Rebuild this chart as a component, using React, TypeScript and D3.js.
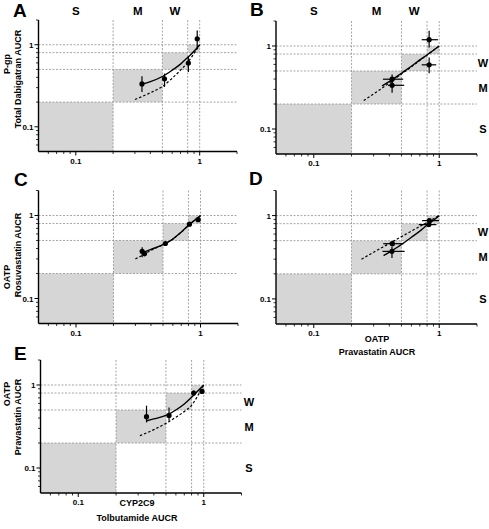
import React from 'react';
import * as d3 from 'd3';

// ---------- shared axis / zone values ----------
const AXIS_DOMAIN: [number, number] = [0.05, 2];
const zoneBoxes: [number, number][] = [[0.05, 0.2], [0.2, 0.5], [0.5, 0.8], [0.8, 1]];
const gridValues = [0.2, 0.5, 0.8, 1];
const majorTicks = [0.1, 1];
const majorTickLabels = ['0.1', '1'];
const minorTicks = [0.06, 0.07, 0.08, 0.09, 0.2, 0.3, 0.4, 0.5, 0.6, 0.7, 0.8, 0.9, 2];
const zoneLabels = ['S', 'M', 'W'];
const zoneCenters = [0.1, 0.316, 0.632];

// ---------- panel A : P-gp, Total Dabigatran AUCR ----------
const aPoints = [
  { x: 0.342, xl: 0.33, xh: 0.355, y: 0.333, yl: 0.266, yh: 0.412 },
  { x: 0.52, xl: 0.505, xh: 0.535, y: 0.385, yl: 0.306, yh: 0.445 },
  { x: 0.81, xl: 0.79, xh: 0.83, y: 0.598, yl: 0.465, yh: 0.707 },
  { x: 0.955, xl: 0.935, xh: 0.975, y: 1.18, yl: 0.89, yh: 1.49 },
];
const aSolid: [number, number][] = [[0.34, 0.33], [0.4, 0.355], [0.5, 0.41], [0.6, 0.49], [0.7, 0.58], [0.8, 0.7], [0.9, 0.83], [1.0, 1.0]];
const aDashed: [number, number][] = [[0.3, 0.215], [0.4, 0.26], [0.5, 0.31], [0.6, 0.39], [0.7, 0.49], [0.8, 0.61], [0.9, 0.78], [1.0, 1.0]];

// ---------- panel B ----------
const bPoints = [
  { x: 0.421, xl: 0.356, xh: 0.516, y: 0.398, yl: 0.345, yh: 0.455 },
  { x: 0.421, xl: 0.39, xh: 0.526, y: 0.336, yl: 0.273, yh: 0.416 },
  { x: 0.831, xl: 0.725, xh: 0.976, y: 1.19, yl: 0.96, yh: 1.53 },
  { x: 0.831, xl: 0.725, xh: 0.946, y: 0.593, yl: 0.47, yh: 0.727 },
];
const bSolid: [number, number][] = [[0.35, 0.33], [0.42, 0.39], [0.5, 0.47], [0.6, 0.57], [0.7, 0.68], [0.8, 0.78], [0.9, 0.89], [1.0, 1.0]];
const bDashed: [number, number][] = [[0.25, 0.22], [0.3, 0.265], [0.35, 0.31], [0.42, 0.38], [0.5, 0.46], [0.6, 0.56], [0.7, 0.67], [0.8, 0.78], [0.9, 0.89], [1.0, 1.0]];

// ---------- panel C : OATP, Rosuvastatin AUCR ----------
const cPoints = [
  { x: 0.34, xl: 0.33, xh: 0.35, y: 0.37, yl: 0.313, yh: 0.414 },
  { x: 0.355, xl: 0.345, xh: 0.365, y: 0.345, yl: 0.33, yh: 0.36 },
  { x: 0.522, xl: 0.51, xh: 0.535, y: 0.46, yl: 0.43, yh: 0.49 },
  { x: 0.815, xl: 0.8, xh: 0.83, y: 0.785, yl: 0.74, yh: 0.83 },
  { x: 0.958, xl: 0.94, xh: 0.975, y: 0.89, yl: 0.84, yh: 0.94 },
];
const cSolid: [number, number][] = [[0.34, 0.355], [0.4, 0.39], [0.5, 0.445], [0.6, 0.52], [0.7, 0.63], [0.8, 0.76], [0.9, 0.88], [1.0, 1.0]];
const cDashed: [number, number][] = [[0.3, 0.3], [0.34, 0.33], [0.4, 0.38], [0.5, 0.445], [0.6, 0.52], [0.7, 0.63], [0.8, 0.76], [0.9, 0.88], [1.0, 1.0]];

// ---------- panel D : OATP Pravastatin AUCR (x) ----------
const dPoints = [
  { x: 0.423, xl: 0.358, xh: 0.52, y: 0.46, yl: 0.43, yh: 0.49 },
  { x: 0.42, xl: 0.353, xh: 0.53, y: 0.372, yl: 0.31, yh: 0.423 },
  { x: 0.835, xl: 0.73, xh: 0.995, y: 0.87, yl: 0.83, yh: 0.91 },
  { x: 0.826, xl: 0.686, xh: 0.95, y: 0.779, yl: 0.74, yh: 0.82 },
];
const dSolid: [number, number][] = [[0.36, 0.33], [0.42, 0.38], [0.5, 0.45], [0.6, 0.55], [0.7, 0.65], [0.8, 0.77], [0.9, 0.88], [1.0, 1.0]];
const dDashed: [number, number][] = [[0.24, 0.3], [0.3, 0.364], [0.4, 0.463], [0.5, 0.559], [0.6, 0.651], [0.7, 0.741], [0.8, 0.829], [0.9, 0.915], [1.0, 1.0]];

// ---------- panel E : CYP2C9 Tolbutamide vs OATP Pravastatin ----------
const ePoints = [
  { x: 0.35, xl: 0.34, xh: 0.36, y: 0.415, yl: 0.354, yh: 0.563 },
  { x: 0.529, xl: 0.515, xh: 0.54, y: 0.43, yl: 0.372, yh: 0.537 },
  { x: 0.831, xl: 0.815, xh: 0.845, y: 0.8, yl: 0.75, yh: 0.86 },
  { x: 0.969, xl: 0.95, xh: 0.985, y: 0.837, yl: 0.78, yh: 0.9 },
];
const eSolid: [number, number][] = [[0.35, 0.37], [0.4, 0.39], [0.5, 0.43], [0.6, 0.5], [0.7, 0.59], [0.8, 0.71], [0.9, 0.85], [1.0, 1.0]];
const eDashed: [number, number][] = [[0.31, 0.245], [0.4, 0.29], [0.5, 0.345], [0.6, 0.41], [0.7, 0.48], [0.8, 0.57], [0.9, 0.75], [1.0, 1.0]];

const FONT = 'Liberation Sans, Arial, Helvetica, sans-serif';

type Pt = { x: number; xl: number; xh: number; y: number; yl: number; yh: number };

interface PanelProps {
  letter: string;
  letterPos: [number, number];
  box: { x0: number; x1: number; y0: number; y1: number };
  points: Pt[];
  solid: [number, number][];
  dashed: [number, number][];
  topLabels?: boolean;
  rightLabelsX?: number;
  yTitle?: [string, string, number, number, number, number];
  xTitle?: [string, string, number, number, number];
}

function Panel(p: PanelProps) {
  const { x0, x1, y0, y1 } = p.box;
  const xs = d3.scaleLog().domain(AXIS_DOMAIN).range([x0, x1]);
  const ys = d3.scaleLog().domain(AXIS_DOMAIN).range([y1, y0]);
  const line = d3
    .line<[number, number]>()
    .x((d) => xs(d[0]))
    .y((d) => ys(d[1]))
    .curve(d3.curveMonotoneX);
  const gridColor = '#8f8f8f';
  return (
    <g>
      <text x={p.letterPos[0]} y={p.letterPos[1]} fontSize={19} fontWeight="bold" fontFamily={FONT}>
        {p.letter}
      </text>
      {zoneBoxes.map(([a, b], i) => (
        <rect key={'z' + i} x={xs(a)} y={ys(b)} width={xs(b) - xs(a)} height={ys(a) - ys(b)} fill="#d6d6d6" />
      ))}
      {gridValues.map((v, i) => (
        <line key={'gv' + i} x1={xs(v)} x2={xs(v)} y1={y0} y2={y1} stroke={gridColor} strokeWidth={0.8} strokeDasharray="2,1.5" />
      ))}
      {gridValues.map((v, i) => (
        <line key={'gh' + i} x1={x0} x2={x1} y1={ys(v)} y2={ys(v)} stroke={gridColor} strokeWidth={0.8} strokeDasharray="2,1.5" />
      ))}
      {/* axes */}
      <line x1={x0} x2={x1} y1={y1} y2={y1} stroke="#000" strokeWidth={1.4} />
      <line x1={x0} x2={x0} y1={y0} y2={y1} stroke="#000" strokeWidth={1.4} />
      {minorTicks.map((v, i) => (
        <g key={'mt' + i}>
          <line x1={xs(v)} x2={xs(v)} y1={y1} y2={y1 + 2.5} stroke="#000" strokeWidth={0.8} />
          <line x1={x0} x2={x0 - 2.5} y1={ys(v)} y2={ys(v)} stroke="#000" strokeWidth={0.8} />
        </g>
      ))}
      {majorTicks.map((v, i) => (
        <g key={'Mt' + i}>
          <line x1={xs(v)} x2={xs(v)} y1={y1} y2={y1 + 4} stroke="#000" strokeWidth={1} />
          <line x1={x0} x2={x0 - 4} y1={ys(v)} y2={ys(v)} stroke="#000" strokeWidth={1} />
          <text x={xs(v)} y={y1 + 12} fontSize={8} fontWeight="bold" textAnchor="middle" fontFamily={FONT}>
            {majorTickLabels[i]}
          </text>
          <text x={x0 - 5} y={ys(v) + 3} fontSize={8} fontWeight="bold" textAnchor="end" fontFamily={FONT}>
            {majorTickLabels[i]}
          </text>
        </g>
      ))}
      {/* model curves */}
      <path d={line(p.dashed) || ''} fill="none" stroke="#000" strokeWidth={1.2} strokeDasharray="2.5,2" />
      <path d={line(p.solid) || ''} fill="none" stroke="#000" strokeWidth={1.4} />
      {/* observed data */}
      {p.points.map((d, i) => (
        <g key={'p' + i}>
          <line x1={xs(d.xl)} x2={xs(d.xh)} y1={ys(d.y)} y2={ys(d.y)} stroke="#000" strokeWidth={1.2} />
          <line x1={xs(d.x)} x2={xs(d.x)} y1={ys(d.yl)} y2={ys(d.yh)} stroke="#000" strokeWidth={1.2} />
          <circle cx={xs(d.x)} cy={ys(d.y)} r={2.6} fill="#000" />
        </g>
      ))}
      {p.topLabels &&
        zoneLabels.map((t, i) => (
          <text key={'tl' + i} x={xs(zoneCenters[i])} y={15} fontSize={11.5} fontWeight="bold" textAnchor="middle" fontFamily={FONT}>
            {t}
          </text>
        ))}
      {p.rightLabelsX !== undefined &&
        zoneLabels.map((t, i) => (
          <text key={'rl' + i} x={p.rightLabelsX} y={ys(zoneCenters[i]) + 4} fontSize={11} fontWeight="bold" textAnchor="middle" fontFamily={FONT}>
            {t}
          </text>
        ))}
      {p.yTitle && (
        <g>
          <text transform={`translate(${p.yTitle[2]},${p.yTitle[3]}) rotate(-90)`} fontSize={9} fontWeight="bold" textAnchor="middle" fontFamily={FONT}>
            {p.yTitle[0]}
          </text>
          <text transform={`translate(${p.yTitle[4]},${p.yTitle[5]}) rotate(-90)`} fontSize={9} fontWeight="bold" textAnchor="middle" fontFamily={FONT}>
            {p.yTitle[1]}
          </text>
        </g>
      )}
      {p.xTitle && (
        <g>
          <text x={p.xTitle[2]} y={p.xTitle[3]} fontSize={9} fontWeight="bold" textAnchor="middle" fontFamily={FONT}>
            {p.xTitle[0]}
          </text>
          <text x={p.xTitle[2]} y={p.xTitle[4]} fontSize={9} fontWeight="bold" textAnchor="middle" fontFamily={FONT}>
            {p.xTitle[1]}
          </text>
        </g>
      )}
    </g>
  );
}

export default function App() {
  return (
    <svg width={489} height={529} style={{ position: 'absolute', left: 0, top: 0, background: '#fff' }}>
      <rect x={0} y={0} width={489} height={529} fill="#fff" />
      <Panel
        letter="A"
        letterPos={[13, 17]}
        box={{ x0: 38.5, x1: 237, y0: 20, y1: 151.5 }}
        points={aPoints}
        solid={aSolid}
        dashed={aDashed}
        topLabels
        yTitle={['P-gp', 'Total Dabigatran AUCR', 10, 64, 21, 79]}
      />
      <Panel
        letter="B"
        letterPos={[250, 16]}
        box={{ x0: 276, x1: 477, y0: 21, y1: 154 }}
        points={bPoints}
        solid={bSolid}
        dashed={bDashed}
        topLabels
        rightLabelsX={483}
      />
      <Panel
        letter="C"
        letterPos={[14, 186]}
        box={{ x0: 38.5, x1: 238, y0: 190.5, y1: 323.5 }}
        points={cPoints}
        solid={cSolid}
        dashed={cDashed}
        yTitle={['OATP', 'Rosuvastatin AUCR', 10, 277, 21, 255]}
      />
      <Panel
        letter="D"
        letterPos={[249, 185]}
        box={{ x0: 276, x1: 477, y0: 190.5, y1: 324 }}
        points={dPoints}
        solid={dSolid}
        dashed={dDashed}
        rightLabelsX={483}
        xTitle={['OATP', 'Pravastatin AUCR', 377, 342, 355]}
      />
      <Panel
        letter="E"
        letterPos={[14, 360]}
        box={{ x0: 40.5, x1: 241.5, y0: 360, y1: 493 }}
        points={ePoints}
        solid={eSolid}
        dashed={eDashed}
        rightLabelsX={249}
        yTitle={['OATP', 'Pravastatin AUCR', 10, 394, 21, 417]}
        xTitle={['CYP2C9', 'Tolbutamide AUCR', 137, 506, 521]}
      />
    </svg>
  );
}
